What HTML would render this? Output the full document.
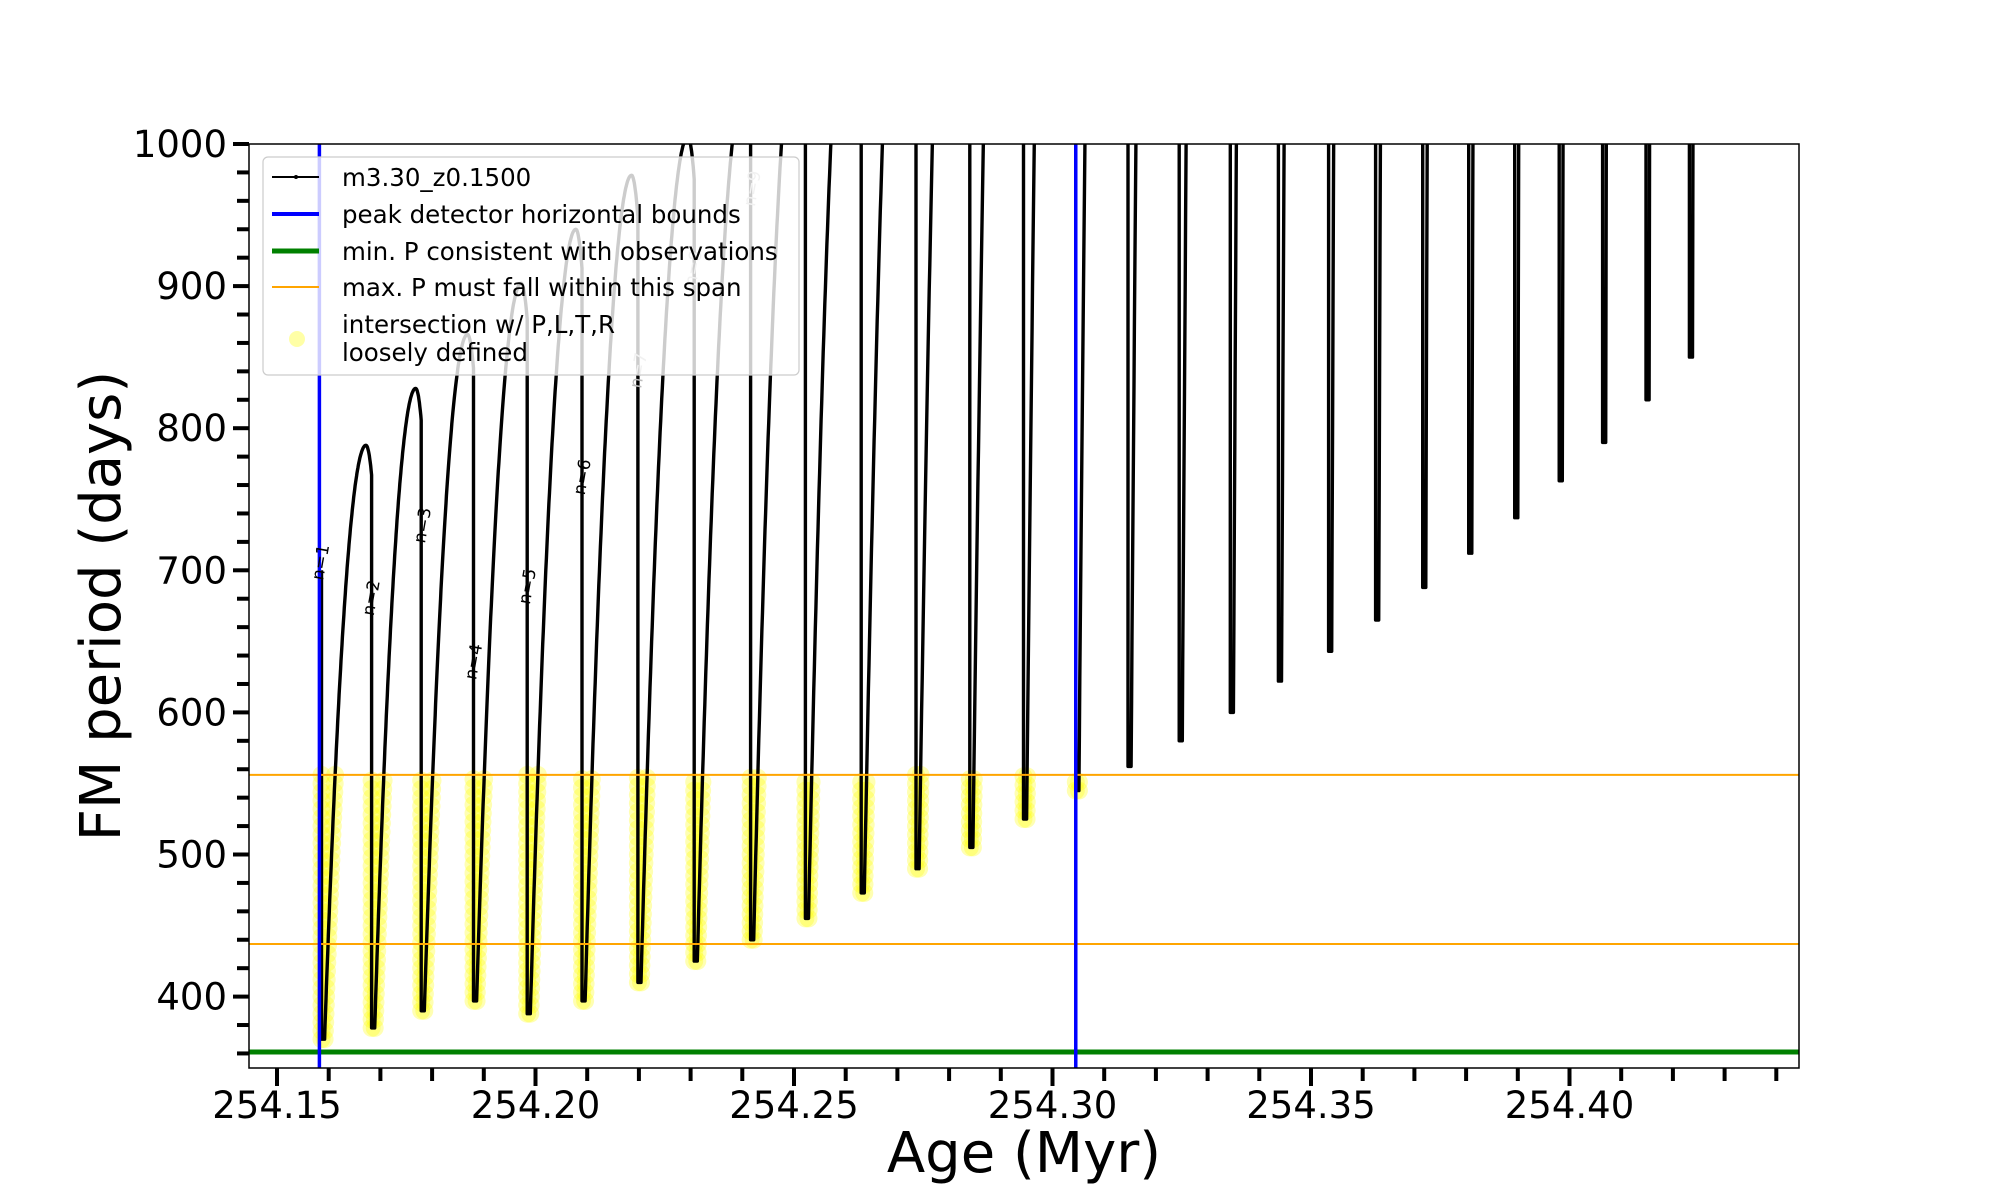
<!DOCTYPE html>
<html><head><meta charset="utf-8"><style>
html,body{margin:0;padding:0;background:#fff;}
svg{display:block;font-family:"DejaVu Sans","Liberation Sans",sans-serif;}
</style></head><body>
<svg id="chart" width="2000" height="1200" viewBox="0 0 2000 1200">
<defs><clipPath id="plotclip"><rect x="249" y="144" width="1550" height="924"/></clipPath></defs>
<g id="yellow" clip-path="url(#plotclip)"></g>
<g id="curve" clip-path="url(#plotclip)"></g>
<g id="hlines" clip-path="url(#plotclip)"></g>
<g id="nlabels"></g>
<g id="legend">
 <rect x="263" y="157" width="536" height="218" rx="5" fill="#fff" fill-opacity="0.8" stroke="#ccc" stroke-width="1.2"/>
 <g><line x1="272" y1="177" x2="319" y2="177" stroke="#000" stroke-width="2"/><circle cx="296" cy="177" r="2" fill="#000"/><text x="342" y="186" font-size="24.5">m3.30_z0.1500</text></g>
 <g><line x1="272" y1="214" x2="319" y2="214" stroke="#0000ff" stroke-width="4"/><text x="342" y="223" font-size="24.5">peak detector horizontal bounds</text></g>
 <g><line x1="272" y1="251" x2="319" y2="251" stroke="#008000" stroke-width="5"/><text x="342" y="260" font-size="24.5">min. P consistent with observations</text></g>
 <g><line x1="272" y1="287" x2="319" y2="287" stroke="#ffa500" stroke-width="2"/><text x="342" y="296" font-size="24.5">max. P must fall within this span</text></g>
 <g><circle cx="297" cy="339" r="8" fill="#ffff00" fill-opacity="0.35"/><text x="342" y="333" font-size="24.5">intersection w/ P,L,T,R</text><text x="342" y="361" font-size="24.5">loosely defined</text></g>
</g>
<rect x="249" y="144" width="1550" height="924" fill="none" stroke="#000" stroke-width="1.5"/>
<g id="axes"></g>
<text x="1024" y="1172" font-size="56" text-anchor="middle">Age (Myr)</text>
<text transform="translate(120,606) rotate(-90)" font-size="56" text-anchor="middle">FM period (days)</text>
</svg>
<script>
const dipAges=[254.1586,254.1683,254.1779,254.1880,254.1984,254.2090,254.2198,254.2307,254.2416,254.2522,254.2630,254.2736,254.2840,254.2944,254.3045,254.3146,254.3245,254.3344,254.3437,254.3534,254.3625,254.3716,254.3805,254.3894,254.3980,254.4064,254.4148,254.4232];
const dipMins=[370,378,390,397,388,397,410,425,440,455,473,490,505,525,545,562,580,600,622,643,665,688,712,737,763,790,820,850];
const cyclePeaks=[788,828,866,902,940,978,1005,1040,1100,1200,1300,1500,1700,2000,2300,2600,3000,3400,3800,4200,4600,5000,5500,6000,6500,7000,7500,8000];
const yellowCount=15;
const hLines=[{v:556,c:"#ffa500",w:2,n:"max-p-upper-line"},{v:437,c:"#ffa500",w:2,n:"max-p-lower-line"},{v:361,c:"#008000",w:5,n:"min-p-line"}];
const vLines=[254.1582,254.3045];
const yTicks=[400,500,600,700,800,900,1000];
const xTicks=[254.15,254.20,254.25,254.30,254.35,254.40];
const xTickLabels=["254.15","254.20","254.25","254.30","254.35","254.40"];
const nLabels=[{t:"n=1",a:254.1595,v:705},{t:"n=2",a:254.1693,v:680},{t:"n=3",a:254.1792,v:731},{t:"n=4",a:254.1891,v:635},{t:"n=5",a:254.1995,v:688},{t:"n=6",a:254.2101,v:765},{t:"n=7",a:254.2210,v:840},{t:"n=8",a:254.2316,v:912},{t:"n=9",a:254.2430,v:968}];

const NS="http://www.w3.org/2000/svg";
function X(a){return 277+(a-254.15)*5170;}
function Y(v){return 144+(1000-v)*1.421;}
function mk(tag,attrs,parent){const e=document.createElementNS(NS,tag);for(const k in attrs)e.setAttribute(k,attrs[k]);parent.appendChild(e);return e;}
function g(u){if(u<=0.88){const t=1-u/0.88;return 1-t*t;}const s=(u-0.88)/0.12;return 1-0.05*s*s;}

const curveG=document.getElementById('curve');
const yellowG=document.getElementById('yellow');
let d="";
const OFF=0.0006;
for(let k=0;k<dipAges.length;k++){
  const a0=dipAges[k]+OFF;
  const a1=k+1<dipAges.length?dipAges[k+1]:dipAges[k]+0.0090;
  const m=dipMins[k],p=cyclePeaks[k];
  if(k===0)d+="M"+X(dipAges[k]).toFixed(1)+","+Y(700).toFixed(1);
  d+=" L"+X(dipAges[k]).toFixed(1)+","+Y(m).toFixed(1);
  for(let i=0;i<=100;i++){const u=i/100;const a=a0+(a1-a0)*u;let v=m+(p-m)*g(u);if(v>1300)v=1300;d+=" L"+X(a).toFixed(1)+","+Y(v).toFixed(1);}
  if(k<yellowCount){
    for(let v=m;v<=556;v+=6){
      const c1=mk('circle',{cx:X(dipAges[k]).toFixed(1),cy:Y(v).toFixed(1),r:9,fill:"#ffff00","fill-opacity":0.3},yellowG);
      
      
      let lo=0,hi=0.88;for(let it=0;it<30;it++){const mid=(lo+hi)/2;if(m+(p-m)*g(mid)<v)lo=mid;else hi=mid;}
      const a=a0+(a1-a0)*lo;
      const c2=mk('circle',{cx:X(a).toFixed(1),cy:Y(v).toFixed(1),r:9,fill:"#ffff00","fill-opacity":0.3},yellowG);
      
      
    }
  }
}
const path=mk('path',{d:d,fill:"none",stroke:"#000","stroke-width":3.4,"stroke-linejoin":"round"},curveG);



const hl=document.getElementById('hlines');
hLines.forEach(h=>{const l=mk('line',{x1:249,x2:1799,y1:Y(h.v),y2:Y(h.v),stroke:h.c,"stroke-width":h.w},hl);
  
  });
vLines.forEach(a=>{const l=mk('line',{x1:X(a),x2:X(a),y1:144,y2:1068,stroke:"#0000ff","stroke-width":3.5},hl);
  
  });

const nl=document.getElementById('nlabels');
nLabels.forEach((n,i)=>{const t=mk('text',{transform:`translate(${X(n.a)},${Y(n.v)}) rotate(-80)`,"font-size":17,"text-anchor":"middle",fill:i>=6?"#bbb":"#000"},nl);t.textContent=n.t;
  
  });

const ax=document.getElementById('axes');
for(let v=360;v<=1000;v+=20){const maj=v%100===0;const l=mk('line',{x1:maj?233:237,x2:249,y1:Y(v),y2:Y(v),stroke:"#000","stroke-width":4},ax);
  
  }
yTicks.forEach(v=>{const t=mk('text',{x:227,y:Y(v)+13,"font-size":37,"text-anchor":"end"},ax);t.textContent=String(v);
  
  });
for(let i=0;i<=29;i++){const a=254.15+i*0.01;const maj=i%5===0;const l=mk('line',{x1:X(a),x2:X(a),y1:1068,y2:maj?1086:1081,stroke:"#000","stroke-width":4},ax);
  
  }
xTicks.forEach((a,i)=>{const t=mk('text',{x:X(a),y:1118,"font-size":37,"text-anchor":"middle"},ax);t.textContent=xTickLabels[i];
  
  });
</script>
</body></html>
